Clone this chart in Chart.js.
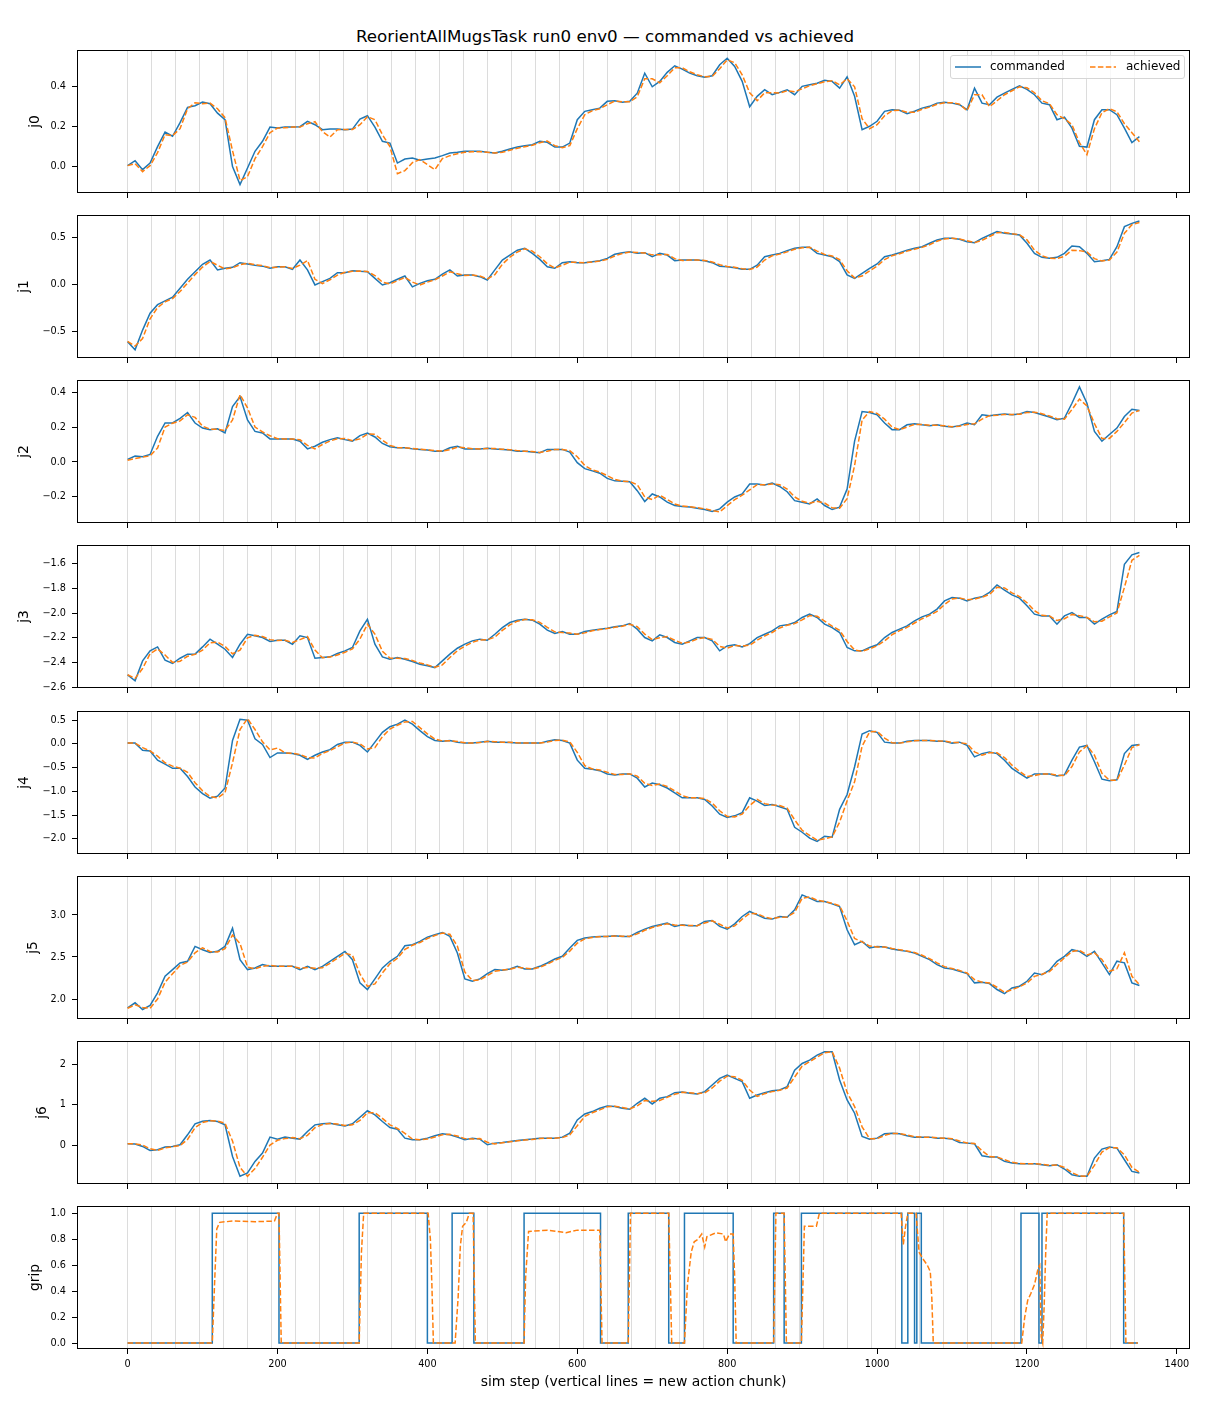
<!DOCTYPE html>
<html>
<head>
<meta charset="utf-8">
<title>commanded vs achieved</title>
<script src="https://cdn.jsdelivr.net/npm/chart.js@4.4.1/dist/chart.umd.min.js"></script>
<style>
body{margin:0;background:#fff;font-family:"DejaVu Sans",sans-serif;}
#fig{position:relative;width:1210px;height:1408px;overflow:hidden;background:#fff;}
.panel{position:absolute;left:0;width:1210px;}
#title{position:absolute;left:0;top:26px;width:1210px;text-align:center;font-size:16.7px;line-height:20px;color:#000;}
#legend{position:absolute;left:950px;top:55px;width:233px;height:22px;border:1px solid #d6d6d6;border-radius:3px;background:rgba(255,255,255,0.8);z-index:3;font-size:12px;color:#000;}
#legend svg,#legend span{position:absolute;}
#legend span{top:3px;line-height:14px;}
</style>
</head>
<body>
<div id="fig">
  <div id="title">ReorientAllMugsTask run0 env0 — commanded vs achieved</div>
  <div id="legend">
    <svg style="left:4px;top:6px" width="26" height="10"><line x1="0" y1="5" x2="26" y2="5" stroke="#1f77b4" stroke-width="1.5"/></svg>
    <span style="left:39px">commanded</span>
    <svg style="left:139px;top:6px" width="26" height="10"><line x1="0" y1="5" x2="26" y2="5" stroke="#ff7f0e" stroke-width="1.5" stroke-dasharray="5.5 2.4"/></svg>
    <span style="left:175px">achieved</span>
  </div>
</div>
<script>
// sim steps the joint traces were sampled at
const steps = [
  0,10,20,30,40,50,60,70,80,90,
  100,110,120,130,140,150,160,170,180,190,
  200,210,220,230,240,250,260,270,280,290,
  300,310,320,330,340,350,360,370,380,390,
  400,410,420,430,440,450,460,470,480,490,
  500,510,520,530,540,550,560,570,580,590,
  600,610,620,630,640,650,660,670,680,690,
  700,710,720,730,740,750,760,770,780,790,
  800,810,820,830,840,850,860,870,880,890,
  900,910,920,930,940,950,960,970,980,990,
  1000,1010,1020,1030,1040,1050,1060,1070,1080,1090,
  1100,1110,1120,1130,1140,1150,1160,1170,1180,1190,
  1200,1210,1220,1230,1240,1250,1260,1270,1280,1290,
  1300,1310,1320,1330,1340,1350
];

// start of each action chunk
const chunkStarts = [0,32,64,96,128,160,192,224,256,288,320,352,384,416,448,480,512,544,576,608,640,672,704,736,768,800,832,864,896,928,960,992,1024,1056,1088,1120,1152,1184,1216,1248,1280,1312,1344];

const xTicks = [0,200,400,600,800,1000,1200,1400];

const j0Cmd = [
  0.005,0.03,-0.015,0.018,0.10,0.173,0.152,0.22,0.297,0.305,
  0.323,0.315,0.268,0.235,0.0,-0.09,-0.007,0.077,0.127,0.198,
  0.193,0.198,0.198,0.20,0.227,0.21,0.185,0.188,0.188,0.185,
  0.188,0.238,0.255,0.198,0.127,0.118,0.018,0.038,0.043,0.032,
  0.038,0.043,0.055,0.068,0.072,0.077,0.077,0.077,0.072,0.068,
  0.077,0.088,0.098,0.105,0.11,0.127,0.122,0.098,0.098,0.118,
  0.235,0.277,0.285,0.293,0.327,0.33,0.322,0.327,0.368,0.468,
  0.40,0.427,0.472,0.505,0.488,0.468,0.455,0.448,0.455,0.51,
  0.543,0.502,0.427,0.30,0.352,0.385,0.36,0.372,0.385,0.36,
  0.402,0.41,0.418,0.432,0.427,0.393,0.45,0.352,0.185,0.202,
  0.227,0.277,0.285,0.282,0.265,0.277,0.293,0.302,0.318,0.322,
  0.318,0.31,0.285,0.393,0.318,0.31,0.348,0.368,0.387,0.405,
  0.387,0.36,0.318,0.31,0.235,0.248,0.193,0.102,0.098,0.235,
  0.285,0.285,0.26,0.193,0.12,0.15
];
const j0Ach = [
  0.005,0.015,-0.025,0.005,0.07,0.16,0.155,0.19,0.29,0.32,
  0.315,0.318,0.29,0.245,0.08,-0.07,-0.05,0.04,0.10,0.17,
  0.193,0.195,0.198,0.198,0.215,0.225,0.175,0.148,0.185,0.186,
  0.186,0.21,0.25,0.235,0.16,0.10,-0.035,-0.02,0.02,0.035,
  0.01,-0.015,0.04,0.055,0.065,0.072,0.075,0.075,0.072,0.068,
  0.072,0.082,0.092,0.10,0.107,0.12,0.128,0.105,0.095,0.105,
  0.19,0.26,0.28,0.29,0.31,0.328,0.325,0.325,0.35,0.44,
  0.44,0.42,0.455,0.495,0.495,0.475,0.46,0.45,0.452,0.49,
  0.535,0.52,0.46,0.37,0.33,0.37,0.37,0.368,0.38,0.375,
  0.39,0.405,0.415,0.425,0.43,0.41,0.44,0.40,0.24,0.19,
  0.21,0.255,0.28,0.283,0.272,0.272,0.287,0.298,0.312,0.32,
  0.32,0.313,0.28,0.36,0.36,0.30,0.33,0.36,0.38,0.40,
  0.395,0.37,0.33,0.315,0.26,0.24,0.21,0.12,0.06,0.19,
  0.27,0.29,0.275,0.215,0.17,0.125
];

const j1Cmd = [
  -0.613,-0.70,-0.49,-0.31,-0.22,-0.18,-0.14,-0.046,0.05,0.13,
  0.21,0.255,0.15,0.167,0.177,0.227,0.213,0.20,0.19,0.167,
  0.184,0.184,0.156,0.255,0.15,-0.01,0.025,0.06,0.12,0.12,
  0.142,0.135,0.13,0.06,-0.01,0.014,0.05,0.085,-0.03,0.007,
  0.035,0.05,0.106,0.15,0.085,0.096,0.096,0.078,0.043,0.15,
  0.255,0.308,0.36,0.38,0.326,0.262,0.184,0.167,0.227,0.238,
  0.227,0.227,0.238,0.248,0.273,0.316,0.333,0.344,0.326,0.333,
  0.29,0.326,0.308,0.248,0.255,0.255,0.255,0.248,0.227,0.19,
  0.184,0.174,0.156,0.156,0.20,0.29,0.308,0.326,0.355,0.38,
  0.39,0.39,0.326,0.308,0.29,0.238,0.096,0.06,0.113,0.167,
  0.213,0.29,0.308,0.333,0.36,0.38,0.397,0.433,0.468,0.486,
  0.486,0.475,0.45,0.44,0.486,0.521,0.557,0.539,0.532,0.521,
  0.433,0.326,0.284,0.273,0.284,0.326,0.404,0.397,0.326,0.238,
  0.248,0.262,0.397,0.61,0.645,0.67
];
const j1Ach = [
  -0.61,-0.66,-0.58,-0.37,-0.25,-0.19,-0.155,-0.08,0.01,0.10,
  0.18,0.24,0.20,0.16,0.172,0.205,0.22,0.205,0.195,0.175,
  0.178,0.184,0.165,0.20,0.25,0.05,0.005,0.045,0.095,0.125,
  0.135,0.138,0.132,0.09,0.02,0.0,0.035,0.07,0.02,-0.01,
  0.02,0.045,0.085,0.13,0.11,0.09,0.096,0.085,0.055,0.10,
  0.21,0.285,0.34,0.375,0.35,0.29,0.215,0.17,0.20,0.232,
  0.23,0.227,0.233,0.244,0.262,0.298,0.325,0.34,0.335,0.33,
  0.31,0.31,0.315,0.27,0.25,0.255,0.255,0.25,0.235,0.205,
  0.186,0.178,0.163,0.155,0.18,0.255,0.30,0.318,0.342,0.37,
  0.385,0.39,0.35,0.315,0.298,0.26,0.14,0.065,0.085,0.14,
  0.19,0.26,0.30,0.322,0.35,0.37,0.39,0.418,0.455,0.48,
  0.486,0.48,0.46,0.44,0.465,0.505,0.545,0.548,0.535,0.525,
  0.47,0.36,0.30,0.275,0.27,0.295,0.36,0.355,0.34,0.27,
  0.245,0.255,0.34,0.54,0.63,0.655
];

const j2Cmd = [
  0.015,0.034,0.03,0.043,0.147,0.223,0.223,0.25,0.283,0.223,
  0.194,0.185,0.19,0.166,0.317,0.374,0.24,0.175,0.166,0.132,
  0.132,0.132,0.132,0.119,0.075,0.09,0.113,0.128,0.138,0.128,
  0.119,0.151,0.166,0.143,0.106,0.087,0.081,0.081,0.075,0.072,
  0.068,0.062,0.062,0.081,0.09,0.075,0.075,0.075,0.079,0.075,
  0.072,0.068,0.062,0.062,0.057,0.053,0.072,0.072,0.072,0.057,
  -0.004,-0.038,-0.051,-0.064,-0.094,-0.108,-0.11,-0.113,-0.164,-0.226,
  -0.183,-0.2,-0.23,-0.249,-0.255,-0.258,-0.264,-0.272,-0.283,-0.268,
  -0.23,-0.2,-0.183,-0.126,-0.126,-0.132,-0.121,-0.14,-0.17,-0.221,
  -0.23,-0.24,-0.211,-0.249,-0.272,-0.258,-0.155,0.119,0.289,0.283,
  0.27,0.223,0.185,0.185,0.213,0.219,0.213,0.208,0.213,0.204,
  0.2,0.208,0.223,0.213,0.27,0.264,0.27,0.275,0.27,0.275,
  0.289,0.283,0.27,0.257,0.242,0.251,0.336,0.43,0.336,0.175,
  0.119,0.157,0.194,0.26,0.302,0.294
];
const j2Ach = [
  0.01,0.02,0.028,0.035,0.08,0.20,0.222,0.235,0.27,0.255,
  0.205,0.188,0.187,0.18,0.24,0.385,0.31,0.20,0.172,0.15,
  0.133,0.132,0.132,0.127,0.095,0.075,0.10,0.12,0.133,0.135,
  0.122,0.132,0.16,0.158,0.125,0.095,0.083,0.081,0.078,0.073,
  0.07,0.065,0.062,0.07,0.085,0.082,0.076,0.075,0.077,0.077,
  0.073,0.07,0.065,0.062,0.06,0.055,0.062,0.072,0.072,0.065,
  0.03,-0.02,-0.045,-0.058,-0.078,-0.1,-0.11,-0.112,-0.13,-0.2,
  -0.215,-0.19,-0.215,-0.24,-0.252,-0.256,-0.261,-0.268,-0.278,-0.285,
  -0.25,-0.215,-0.19,-0.16,-0.13,-0.13,-0.126,-0.13,-0.155,-0.2,
  -0.225,-0.236,-0.225,-0.235,-0.262,-0.265,-0.21,-0.02,0.24,0.288,
  0.278,0.245,0.2,0.185,0.2,0.215,0.215,0.21,0.21,0.207,
  0.202,0.205,0.215,0.218,0.245,0.265,0.267,0.272,0.272,0.273,
  0.283,0.285,0.276,0.263,0.248,0.245,0.30,0.36,0.32,0.22,
  0.135,0.135,0.175,0.225,0.28,0.295
];

const j3Cmd = [
  -2.501,-2.55,-2.388,-2.306,-2.274,-2.382,-2.409,-2.366,-2.333,-2.333,
  -2.274,-2.211,-2.252,-2.293,-2.36,-2.252,-2.171,-2.184,-2.198,-2.23,
  -2.22,-2.22,-2.252,-2.184,-2.198,-2.366,-2.36,-2.355,-2.328,-2.306,
  -2.279,-2.144,-2.05,-2.252,-2.355,-2.374,-2.36,-2.374,-2.393,-2.415,
  -2.428,-2.442,-2.388,-2.333,-2.285,-2.252,-2.225,-2.211,-2.22,-2.171,
  -2.117,-2.076,-2.057,-2.049,-2.057,-2.089,-2.138,-2.165,-2.149,-2.171,
  -2.171,-2.149,-2.138,-2.13,-2.122,-2.111,-2.103,-2.084,-2.13,-2.198,
  -2.225,-2.176,-2.198,-2.238,-2.252,-2.225,-2.198,-2.198,-2.225,-2.306,
  -2.266,-2.257,-2.274,-2.247,-2.198,-2.171,-2.144,-2.103,-2.095,-2.076,
  -2.035,-2.008,-2.035,-2.089,-2.117,-2.157,-2.279,-2.306,-2.306,-2.279,
  -2.257,-2.198,-2.157,-2.13,-2.103,-2.062,-2.03,-2.008,-1.967,-1.90,
  -1.873,-1.878,-1.90,-1.878,-1.867,-1.832,-1.77,-1.813,-1.851,-1.878,
  -1.94,-2.008,-2.022,-2.022,-2.089,-2.022,-1.995,-2.035,-2.035,-2.089,
  -2.049,-2.014,-1.986,-1.602,-1.526,-1.507
];
const j3Ach = [
  -2.50,-2.53,-2.45,-2.33,-2.29,-2.34,-2.40,-2.39,-2.35,-2.335,
  -2.30,-2.24,-2.235,-2.27,-2.33,-2.30,-2.20,-2.18,-2.19,-2.215,
  -2.222,-2.22,-2.238,-2.215,-2.19,-2.30,-2.362,-2.357,-2.34,-2.318,
  -2.29,-2.21,-2.09,-2.17,-2.31,-2.365,-2.367,-2.368,-2.385,-2.405,
  -2.42,-2.44,-2.42,-2.36,-2.305,-2.268,-2.237,-2.218,-2.216,-2.195,
  -2.14,-2.095,-2.065,-2.052,-2.053,-2.075,-2.115,-2.152,-2.158,-2.162,
  -2.171,-2.16,-2.143,-2.133,-2.125,-2.115,-2.106,-2.09,-2.11,-2.17,
  -2.215,-2.20,-2.19,-2.22,-2.245,-2.235,-2.21,-2.198,-2.213,-2.27,
  -2.285,-2.262,-2.268,-2.26,-2.22,-2.185,-2.157,-2.12,-2.098,-2.085,
  -2.055,-2.02,-2.025,-2.065,-2.105,-2.14,-2.23,-2.30,-2.31,-2.29,
  -2.265,-2.225,-2.175,-2.142,-2.115,-2.08,-2.045,-2.018,-1.985,-1.93,
  -1.885,-1.876,-1.89,-1.885,-1.87,-1.848,-1.79,-1.795,-1.835,-1.865,
  -1.915,-1.98,-2.017,-2.022,-2.06,-2.045,-2.01,-2.02,-2.035,-2.07,
  -2.065,-2.03,-1.998,-1.79,-1.57,-1.53
];

const j4Cmd = [
  0.014,0.014,-0.138,-0.152,-0.345,-0.428,-0.517,-0.517,-0.69,-0.91,
  -1.048,-1.145,-1.103,-0.931,0.069,0.517,0.497,0.103,-0.014,-0.29,
  -0.193,-0.193,-0.207,-0.241,-0.331,-0.241,-0.172,-0.124,-0.014,0.034,
  0.034,-0.034,-0.172,0.034,0.241,0.359,0.414,0.497,0.414,0.276,
  0.152,0.069,0.055,0.069,0.034,0.014,0.014,0.034,0.055,0.034,
  0.034,0.028,0.014,0.014,0.014,0.014,0.055,0.083,0.069,0.014,
  -0.345,-0.517,-0.538,-0.566,-0.634,-0.655,-0.634,-0.634,-0.724,-0.91,
  -0.828,-0.862,-0.931,-1.034,-1.138,-1.138,-1.138,-1.172,-1.31,-1.483,
  -1.552,-1.517,-1.448,-1.138,-1.207,-1.297,-1.276,-1.324,-1.379,-1.759,
  -1.862,-1.986,-2.055,-1.945,-1.966,-1.379,-1.069,-0.483,0.207,0.276,
  0.241,0.034,0.014,0.014,0.055,0.069,0.069,0.069,0.055,0.055,
  0.014,0.034,-0.034,-0.276,-0.207,-0.172,-0.207,-0.345,-0.517,-0.621,
  -0.724,-0.634,-0.634,-0.634,-0.676,-0.655,-0.345,-0.069,-0.034,-0.379,
  -0.745,-0.779,-0.759,-0.207,-0.034,-0.014
];
const j4Ach = [
  0.014,0.014,-0.08,-0.148,-0.26,-0.40,-0.47,-0.515,-0.60,-0.82,
  -0.99,-1.11,-1.14,-1.03,-0.40,0.30,0.53,0.30,0.04,-0.13,
  -0.09,-0.19,-0.20,-0.225,-0.29,-0.30,-0.20,-0.145,-0.06,0.015,
  0.035,0.0,-0.11,-0.08,0.15,0.31,0.39,0.46,0.47,0.34,
  0.21,0.10,0.06,0.062,0.05,0.022,0.014,0.025,0.046,0.045,
  0.034,0.03,0.02,0.014,0.014,0.014,0.035,0.07,0.076,0.04,
  -0.18,-0.46,-0.53,-0.55,-0.60,-0.645,-0.645,-0.634,-0.68,-0.83,
  -0.88,-0.845,-0.90,-0.99,-1.09,-1.138,-1.138,-1.155,-1.25,-1.41,
  -1.53,-1.54,-1.48,-1.30,-1.17,-1.26,-1.29,-1.30,-1.355,-1.60,
  -1.82,-1.93,-2.03,-2.0,-1.96,-1.65,-1.20,-0.80,-0.05,0.25,
  0.26,0.12,0.02,0.014,0.04,0.062,0.069,0.069,0.06,0.055,
  0.03,0.025,0.0,-0.17,-0.24,-0.19,-0.19,-0.29,-0.45,-0.58,
  -0.69,-0.67,-0.634,-0.634,-0.66,-0.67,-0.48,-0.17,-0.04,-0.24,
  -0.62,-0.77,-0.77,-0.45,-0.08,-0.02
];

const j5Cmd = [
  1.895,1.955,1.875,1.923,2.073,2.271,2.35,2.429,2.449,2.626,
  2.587,2.555,2.567,2.626,2.844,2.468,2.35,2.37,2.409,2.389,
  2.389,2.389,2.389,2.35,2.389,2.35,2.389,2.449,2.508,2.567,
  2.468,2.192,2.113,2.239,2.37,2.449,2.508,2.634,2.646,2.686,
  2.737,2.765,2.792,2.745,2.547,2.239,2.211,2.239,2.302,2.35,
  2.342,2.358,2.389,2.358,2.358,2.389,2.429,2.476,2.508,2.607,
  2.698,2.725,2.737,2.745,2.745,2.753,2.745,2.745,2.792,2.832,
  2.864,2.883,2.903,2.864,2.883,2.872,2.872,2.923,2.935,2.864,
  2.832,2.895,2.982,3.042,3.002,2.962,2.951,2.982,2.974,3.061,
  3.239,3.2,3.16,3.16,3.132,3.1,2.824,2.646,2.686,2.607,
  2.626,2.619,2.595,2.579,2.567,2.547,2.508,2.468,2.409,2.37,
  2.358,2.33,2.302,2.192,2.20,2.184,2.113,2.065,2.132,2.152,
  2.211,2.31,2.29,2.342,2.449,2.508,2.587,2.567,2.508,2.567,
  2.429,2.29,2.45,2.43,2.192,2.16
];
const j5Ach = [
  1.89,1.93,1.90,1.89,2.0,2.20,2.30,2.40,2.44,2.55,
  2.61,2.565,2.56,2.60,2.76,2.66,2.38,2.36,2.39,2.40,
  2.39,2.389,2.389,2.365,2.375,2.365,2.372,2.425,2.485,2.545,
  2.52,2.30,2.15,2.18,2.31,2.42,2.485,2.59,2.64,2.672,
  2.72,2.755,2.785,2.77,2.63,2.32,2.22,2.228,2.28,2.33,
  2.345,2.352,2.378,2.368,2.358,2.378,2.415,2.46,2.495,2.57,
  2.665,2.715,2.733,2.742,2.745,2.75,2.748,2.745,2.775,2.818,
  2.85,2.875,2.895,2.88,2.877,2.875,2.872,2.905,2.93,2.89,
  2.845,2.87,2.95,3.02,3.015,2.975,2.955,2.972,2.977,3.03,
  3.20,3.215,3.175,3.16,3.14,3.11,2.93,2.72,2.68,2.63,
  2.62,2.62,2.60,2.585,2.572,2.553,2.52,2.48,2.43,2.385,
  2.362,2.34,2.31,2.23,2.20,2.19,2.14,2.08,2.11,2.145,
  2.19,2.27,2.295,2.325,2.41,2.49,2.565,2.58,2.525,2.55,
  2.47,2.33,2.36,2.55,2.27,2.17
];

const j6Cmd = [
  0.033,0.025,-0.033,-0.131,-0.115,-0.049,-0.033,0.008,0.254,0.525,
  0.59,0.607,0.582,0.50,-0.279,-0.77,-0.689,-0.402,-0.197,0.197,
  0.148,0.197,0.172,0.148,0.336,0.50,0.525,0.541,0.50,0.475,
  0.525,0.689,0.852,0.746,0.582,0.434,0.393,0.172,0.131,0.131,
  0.172,0.23,0.279,0.254,0.197,0.131,0.172,0.148,0.008,0.049,
  0.066,0.09,0.115,0.131,0.148,0.172,0.172,0.172,0.197,0.295,
  0.623,0.77,0.828,0.91,0.967,0.951,0.91,0.885,1.033,1.156,
  1.016,1.156,1.197,1.295,1.311,1.279,1.262,1.32,1.484,1.648,
  1.73,1.648,1.566,1.156,1.238,1.295,1.344,1.361,1.443,1.852,
  2.016,2.098,2.221,2.303,2.303,1.607,1.115,0.787,0.213,0.148,
  0.172,0.279,0.295,0.279,0.23,0.197,0.197,0.197,0.172,0.172,
  0.148,0.066,0.049,0.033,-0.262,-0.295,-0.295,-0.402,-0.443,-0.459,
  -0.459,-0.459,-0.484,-0.508,-0.484,-0.59,-0.73,-0.77,-0.77,-0.32,
  -0.098,-0.049,-0.074,-0.361,-0.648,-0.689
];
const j6Ach = [
  0.033,0.03,0.0,-0.09,-0.13,-0.07,-0.04,-0.01,0.14,0.43,
  0.56,0.60,0.595,0.54,0.10,-0.55,-0.77,-0.58,-0.30,0.0,
  0.12,0.16,0.185,0.16,0.24,0.43,0.51,0.535,0.52,0.485,
  0.50,0.61,0.80,0.80,0.66,0.50,0.41,0.29,0.15,0.131,
  0.15,0.20,0.255,0.265,0.225,0.16,0.15,0.16,0.07,0.03,
  0.058,0.08,0.105,0.124,0.14,0.162,0.172,0.172,0.185,0.25,
  0.48,0.71,0.80,0.87,0.945,0.96,0.93,0.895,0.97,1.10,
  1.08,1.10,1.18,1.255,1.305,1.29,1.27,1.29,1.41,1.58,
  1.70,1.69,1.60,1.36,1.20,1.27,1.32,1.355,1.41,1.68,
  1.95,2.06,2.17,2.28,2.305,1.90,1.30,0.95,0.45,0.16,
  0.16,0.24,0.29,0.285,0.25,0.21,0.197,0.197,0.18,0.172,
  0.158,0.10,0.055,0.04,-0.14,-0.28,-0.295,-0.36,-0.425,-0.452,
  -0.459,-0.459,-0.474,-0.50,-0.49,-0.55,-0.68,-0.76,-0.77,-0.50,
  -0.17,-0.06,-0.065,-0.24,-0.55,-0.67
];

// gripper: commanded is a step signal (value holds until the next change)
const gripCmdSteps = [0,113,202,309,400,433,462,529,631,668,722,743,808,862,876,899,1033,1041,1050,1053,1059,1192,1216,1220,1329,1348];
const gripCmdVals  = [0,1,0,1,0,1,0,1,0,1,0,1,0,1,0,1,0,1,0,1,0,1,0,1,0,0];

const gripAchSteps = [
  0,113,116,119,123,140,170,196,200,202,205,
  309,312,315,401,404,406,408,
  437,441,444,447,452,456,461,464,
  529,531,535,560,585,600,630,633,
  668,671,722,726,
  743,747,752,756,761,766,770,773,777,785,795,798,803,808,810,812,
  862,865,876,879,
  899,903,919,923,1032,1035,1038,1041,1052,1056,1061,1067,1071,1073,1075,
  1193,1197,1201,1205,1210,1215,1217,1219,1221,1223,1225,1227,
  1329,1332,1348
];
const gripAchVals = [
  0,0,0.45,0.88,0.93,0.94,0.935,0.94,1.0,1.0,0,
  0,0.7,1.0,1.0,0.8,0.45,0,
  0,0.35,0.75,0.9,0.93,1.0,1.0,0,
  0,0.5,0.86,0.87,0.85,0.87,0.87,0,
  0,1,1,0,
  0,0.45,0.7,0.78,0.8,0.84,0.74,0.82,0.83,0.85,0.84,0.78,0.84,0.84,0.5,0,
  0,1,1,0,
  0,0.9,0.9,1.0,1.0,0.76,0.9,1.0,1.0,0.7,0.65,0.6,0.55,0.35,0,
  0,0.2,0.33,0.38,0.45,0.58,0.6,0.05,0,0.3,0.7,1.0,
  1.0,0,0
];

const BLUE = '#1f77b4';
const ORANGE = '#ff7f0e';
const FONT = '"DejaVu Sans"';
Chart.defaults.font.family = FONT;
Chart.defaults.color = '#000';

const pts = (xs, ys) => xs.map((x, i) => ({x: x, y: ys[i]}));

// axis box drawn all round, like a matplotlib frame
const framePlugin = {
  id: 'frame',
  afterDatasetsDraw(chart) {
    const a = chart.chartArea, ctx = chart.ctx;
    ctx.save();
    ctx.strokeStyle = '#000';
    ctx.lineWidth = 1;
    ctx.strokeRect(Math.round(a.left) + 0.5, Math.round(a.top) + 0.5,
      Math.round(a.right - a.left) - 1, Math.round(a.bottom - a.top) - 1);
    ctx.restore();
  }
};

const panels = [
  {label:'j0',   cmd:pts(steps, j0Cmd), ach:pts(steps, j0Ach), min:-0.132, max:0.584, step:0.2, dec:1, labelX:35},
  {label:'j1',   cmd:pts(steps, j1Cmd), ach:pts(steps, j1Ach), min:-0.787, max:0.734, step:0.5, dec:1, labelX:24},
  {label:'j2',   cmd:pts(steps, j2Cmd), ach:pts(steps, j2Ach), min:-0.349, max:0.469, step:0.2, dec:1, labelX:24},
  {label:'j3',   cmd:pts(steps, j3Cmd), ach:pts(steps, j3Ach), min:-2.608, max:-1.446, step:0.2, dec:1, labelX:24},
  {label:'j4',   cmd:pts(steps, j4Cmd), ach:pts(steps, j4Ach), min:-2.32, max:0.69, step:0.5, dec:1, labelX:24},
  {label:'j5',   cmd:pts(steps, j5Cmd), ach:pts(steps, j5Ach), min:1.762, max:3.464, step:0.5, dec:1, labelX:33},
  {label:'j6',   cmd:pts(steps, j6Cmd), ach:pts(steps, j6Ach), min:-0.96, max:2.57, step:1, dec:0, labelX:42},
  {label:'grip', cmd:pts(gripCmdSteps, gripCmdVals), ach:pts(gripAchSteps, gripAchVals), min:-0.046, max:1.056, step:0.2, dec:1, labelX:35, stepped:true}
];

const fmt = (v, dec) => v.toFixed(dec).replace('-', '\u2212');
const fig = document.getElementById('fig');
const PAD_TOP = 6, AREA_H = 143, Y_W = 77, RIGHT_PAD = 20;
const LABEL_FONT = 13.9, TICK_FONT = 9.7;

panels.forEach((p, i) => {
  const last = i === panels.length - 1;
  const top = Math.round(50 + i * 165.15);
  const bottomH = last ? 1408 - (top + AREA_H) : 8;
  const h = PAD_TOP + AREA_H + bottomH;

  const wrap = document.createElement('div');
  wrap.className = 'panel';
  wrap.style.top = (top - PAD_TOP) + 'px';
  wrap.style.height = h + 'px';
  const cv = document.createElement('canvas');
  cv.width = 1210; cv.height = h;
  cv.style.width = '1210px'; cv.style.height = h + 'px';
  wrap.appendChild(cv);
  fig.appendChild(wrap);

  new Chart(cv, {
    type: 'line',
    data: {
      datasets: [
        {label:'commanded', data:p.cmd, xAxisID:'x', yAxisID:'y', borderColor:BLUE, borderWidth:1.5,
         pointRadius:0, tension:0, fill:false, stepped:!!p.stepped, order:2},
        {label:'achieved', data:p.ach, xAxisID:'x', yAxisID:'y', borderColor:ORANGE, borderWidth:1.5,
         borderDash:[5.5, 2.4], pointRadius:0, tension:0, fill:false, order:1}
      ]
    },
    options: {
      responsive: false,
      animation: false,
      events: [],
      layout: {padding: {left:0, right:RIGHT_PAD, top:PAD_TOP, bottom:0}},
      plugins: {legend:{display:false}, tooltip:{enabled:false}, title:{display:false}},
      scales: {
        x: {
          type:'linear', axis:'x', position:'bottom', min:-67.5, max:1417.5,
          afterBuildTicks: s => { s.ticks = xTicks.map(v => ({value:v})); },
          ticks: {display:last, autoSkip:false, maxRotation:0, padding:4.5,
                  font:{size:TICK_FONT}, color:'#000', callback: v => String(v)},
          grid: {drawOnChartArea:false, drawTicks:true, tickLength:5, color:'#000', lineWidth:1},
          border: {display:false},
          title: {display:last, text:'sim step (vertical lines = new action chunk)',
                  font:{size:LABEL_FONT}, color:'#000', padding:{top:0, bottom:17}},
          afterFit: s => { s.height = bottomH; s.paddingLeft = 0; s.paddingRight = 0; s.paddingTop = 0; s.paddingBottom = 0; }
        },
        xc: {
          type:'linear', axis:'x', position:'bottom', min:-67.5, max:1417.5,
          afterBuildTicks: s => { s.ticks = chunkStarts.map(v => ({value:v})); },
          ticks: {display:false},
          grid: {drawOnChartArea:true, drawTicks:false, color:'rgba(128,128,128,0.28)', lineWidth:1},
          border: {display:false},
          afterFit: s => { s.height = 0; s.paddingLeft = 0; s.paddingRight = 0; s.paddingTop = 0; s.paddingBottom = 0; }
        },
        y: {
          type:'linear', position:'left', min:p.min, max:p.max,
          ticks: {stepSize:p.step, includeBounds:false, padding:6, font:{size:TICK_FONT}, color:'#000',
                  callback: v => fmt(v, p.dec)},
          grid: {drawOnChartArea:false, drawTicks:true, tickLength:5, color:'#000', lineWidth:1},
          border: {display:false},
          title: {display:true, text:p.label, font:{size:LABEL_FONT}, color:'#000',
                  padding:{top:p.labelX - LABEL_FONT * 0.6, bottom:0}},
          afterFit: s => { s.width = Y_W; s.paddingTop = 0; s.paddingBottom = 0; s.paddingLeft = 0; s.paddingRight = 0; }
        }
      }
    },
    plugins: [framePlugin]
  });
});
</script>
</body>
</html>
